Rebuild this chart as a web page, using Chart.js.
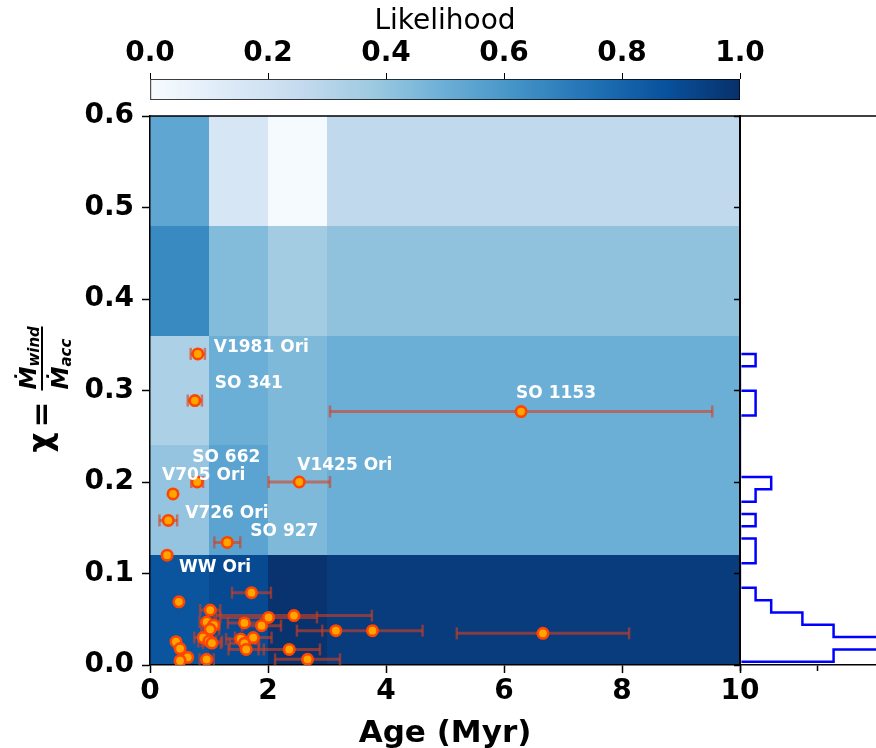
<!DOCTYPE html>
<html>
<head>
<meta charset="utf-8">
<script src="https://cdn.jsdelivr.net/npm/chart.js@4.4.1/dist/chart.umd.min.js"></script>
<style>
  html, body { margin: 0; padding: 0; background: #fff; }
  #wrap { position: relative; width: 876px; height: 748px; overflow: hidden; }
  canvas { position: absolute; top: 0; }
  #main { left: 0; }
  #hist { left: 700px; }
  #cbar { left: 0; }
</style>
</head>
<body>
<div id="wrap">
  <canvas id="main" width="876" height="748"></canvas>
  <canvas id="hist" width="176" height="748"></canvas>
  <canvas id="cbar" width="876" height="110"></canvas>
</div>
<script>
// likelihood grid: age bins x chi bins (rows bottom -> top)
const ageEdges = [0, 1, 2, 3, 10];
const chiEdges = [0, 0.12, 0.24, 0.36, 0.48, 0.6];
const likelihood = [
  [0.86, 0.90, 0.99, 0.955],
  [0.40, 0.55, 0.45, 0.50],
  [0.33, 0.50, 0.45, 0.50],
  [0.655, 0.44, 0.36, 0.41],
  [0.535, 0.165, 0.01, 0.265]
];

// objects
const names = ['V1981 Ori', 'SO 341', 'SO 1153', 'SO 662', 'V1425 Ori', 'V705 Ori', 'V726 Ori', 'SO 927', 'WW Ori'];
const ages = [0.81, 0.76, 6.29, 0.80, 2.53, 0.39, 0.31, 1.31, 0.29, 1.72, 0.49, 1.02, 2.01, 2.44, 0.96, 1.60,
  1.08, 1.89, 1.02, 3.15, 3.77, 6.66, 0.90, 1.75, 0.44, 1.02, 1.54, 1.60, 0.51, 1.63, 2.36, 0.64, 0.51, 0.96,
  2.67, 1.00, 1.05];
const chi = [0.340, 0.289, 0.277, 0.200, 0.200, 0.187, 0.158, 0.134, 0.120, 0.079, 0.069, 0.060, 0.052, 0.054,
  0.047, 0.046, 0.0435, 0.043, 0.039, 0.0375, 0.0375, 0.0346, 0.030, 0.030, 0.0255, 0.0255, 0.0284, 0.0237,
  0.018, 0.017, 0.017, 0.0084, 0.0047, 0.0062, 0.0062, 0.026, 0.024];
const ageErr = [0.12, 0.12, 3.24, 0.10, 0.52, 0, 0.15, 0.22, 0, 0.33, 0, 0.17, 0.82, 1.32, 0.12, 0.28, 0.10,
  0.33, 0.15, 0.66, 0.85, 1.46, 0.15, 0.31, 0, 0.20, 0.25, 0.25, 0, 0.30, 0.52, 0, 0, 0.12, 0.55, 0.12, 0.15];

// chi histogram (25 bins between histMin and histMax, bottom -> top)
const histMin = 0.0036;
const histMax = 0.340;
const histCounts = [6, 9, 6, 4, 2, 1, 0, 0, 1, 1, 0, 1, 0, 1, 2, 0, 0, 0, 0, 0, 1, 1, 0, 0, 1];
const histTicks = [0, 5];

const cbTicks = [0, 0.2, 0.4, 0.6, 0.8, 1.0];

// label offsets in px from the point
const labelOffsets = [[16, -6], [20, -17], [-5, -18], [-5, -24], [-2, -16], [-11, -18], [17, -7], [23, -11], [12, 12]];

const FONT = '"DejaVu Sans", sans-serif';
const errColor = 'rgba(214, 62, 30, 0.6)';

const bluesStops = ['#f7fbff', '#deebf7', '#c6dbef', '#9ecae1', '#6baed6', '#4292c6', '#2171b5', '#08519c', '#08306b'];
function hexRgb(h) {
  return [parseInt(h.slice(1, 3), 16), parseInt(h.slice(3, 5), 16), parseInt(h.slice(5, 7), 16)];
}
function blues(v) {
  const t = Math.max(0, Math.min(1, v)) * 8;
  const i = Math.min(7, Math.floor(t));
  const f = t - i;
  const a = hexRgb(bluesStops[i]), b = hexRgb(bluesStops[i + 1]);
  const c = a.map((x, k) => Math.round(x + (b[k] - x) * f));
  return `rgb(${c[0]},${c[1]},${c[2]})`;
}

// build datasets
const points = ages.map((a, i) => ({ x: a, y: chi[i] }));
const errLines = [];
const errCaps = [];
ages.forEach((a, i) => {
  if (!ageErr[i]) return;
  errLines.push({ x: a - ageErr[i], y: chi[i] }, { x: a + ageErr[i], y: chi[i] }, { x: null, y: null });
  errCaps.push({ x: a - ageErr[i], y: chi[i] }, { x: a + ageErr[i], y: chi[i] });
});

// heatmap cells
const heatmapPlugin = {
  id: 'heatmap',
  beforeDraw(chart) {
    const { ctx, scales: { x, y } } = chart;
    ctx.save();
    for (let r = 0; r < likelihood.length; r++) {
      for (let c = 0; c < likelihood[r].length; c++) {
        const x0 = Math.round(x.getPixelForValue(ageEdges[c]));
        const x1 = Math.round(x.getPixelForValue(ageEdges[c + 1]));
        const y0 = Math.round(y.getPixelForValue(chiEdges[r]));
        const y1 = Math.round(y.getPixelForValue(chiEdges[r + 1]));
        ctx.fillStyle = blues(likelihood[r][c]);
        ctx.fillRect(x0, y1, x1 - x0, y0 - y1);
      }
    }
    ctx.restore();
  }
};

const decorPlugin = {
  id: 'decor',
  afterDraw(chart) {
    const { ctx, chartArea: ca } = chart;
    const meta = chart.getDatasetMeta(0);
    ctx.save();
    // labels
    ctx.fillStyle = '#fff';
    ctx.font = 'bold 17px ' + FONT;
    ctx.textBaseline = 'middle';
    ctx.textAlign = 'left';
    names.forEach((n, i) => {
      const p = meta.data[i];
      ctx.fillText(n, p.x + labelOffsets[i][0], p.y + labelOffsets[i][1]);
    });
    // top / right spines
    ctx.strokeStyle = '#000';
    ctx.lineWidth = 1.5;
    ctx.beginPath();
    ctx.moveTo(ca.left, ca.top);
    ctx.lineTo(ca.right, ca.top);
    ctx.lineTo(ca.right, ca.bottom);
    ctx.stroke();
    // y label: chi = Mdot_wind / Mdot_acc
    ctx.translate(45, (ca.top + ca.bottom) / 2);
    ctx.rotate(-Math.PI / 2);
    ctx.fillStyle = '#000';
    ctx.textBaseline = 'alphabetic';
    const base = 6;
    ctx.font = 'bold 31px ' + FONT;
    ctx.fillText('\u03c7', -62, base);
    ctx.fillText('=', -37, base);
    const bar = -3;
    ctx.fillRect(0, bar - 1, 64, 2);
    ctx.font = 'italic bold 23px ' + FONT;
    ctx.fillText('\u1E40', 1, bar - 6);
    ctx.fillText('\u1E40', 1, bar + 26);
    const wM = ctx.measureText('\u1E40').width;
    ctx.font = 'italic bold 15px ' + FONT;
    ctx.fillText('wind', 1 + wM, bar - 3);
    ctx.fillText('acc', 1 + wM, bar + 29);
    ctx.restore();
  }
};

const tickFont = { family: FONT, size: 28, weight: 'bold' };

new Chart(document.getElementById('main'), {
  type: 'scatter',
  data: {
    datasets: [
      {
        label: 'objects',
        data: points,
        pointRadius: 5.2,
        pointHoverRadius: 5.2,
        pointBackgroundColor: '#ffa500',
        pointBorderColor: '#ff4500',
        pointBorderWidth: 2.6
      },
      {
        label: 'caps',
        data: errCaps,
        pointStyle: 'line',
        rotation: 90,
        pointRadius: 6,
        pointHoverRadius: 6,
        pointBorderColor: errColor,
        pointBorderWidth: 2.5
      },
      {
        label: 'errors',
        data: errLines,
        showLine: true,
        spanGaps: false,
        borderColor: errColor,
        borderWidth: 3,
        pointRadius: 0,
        pointHoverRadius: 0
      }
    ]
  },
  options: {
    responsive: false,
    animation: false,
    events: [],
    layout: { padding: { top: 116, right: 136, left: 0, bottom: 0 } },
    plugins: { legend: { display: false }, tooltip: { enabled: false } },
    scales: {
      x: {
        type: 'linear', min: 0, max: 10,
        ticks: { stepSize: 2, font: tickFont, color: '#000', padding: 2, maxRotation: 0 },
        grid: { drawOnChartArea: false, tickLength: 8, tickColor: '#000', tickWidth: 1.5 },
        border: { color: '#000', width: 1.5 },
        title: { display: true, text: 'Age (Myr)', color: '#000', font: { family: FONT, size: 31, weight: 'bold' }, padding: { top: 0, bottom: -5 } },
        afterFit: s => { s.height = 83; }
      },
      y: {
        type: 'linear', min: 0, max: 0.6,
        ticks: { stepSize: 0.1, font: tickFont, color: '#000', padding: 8, callback: v => v.toFixed(1) },
        grid: { drawOnChartArea: false, tickLength: 8, tickColor: '#000', tickWidth: 1.5 },
        border: { color: '#000', width: 1.5 },
        afterFit: s => { s.width = 150; }
      }
    }
  },
  plugins: [heatmapPlugin, decorPlugin]
});

// histogram of chi (horizontal steps)
const binW = (histMax - histMin) / histCounts.length;
const histPath = [{ x: 0, y: histMin }];
histCounts.forEach((c, i) => {
  histPath.push({ x: c, y: histMin + i * binW }, { x: c, y: histMin + (i + 1) * binW });
});
histPath.push({ x: 0, y: histMax });

const topSpine = {
  id: 'topSpine',
  afterDraw(chart) {
    const { ctx, chartArea: ca } = chart;
    ctx.save();
    ctx.strokeStyle = '#000';
    ctx.lineWidth = 1.5;
    ctx.beginPath();
    ctx.moveTo(ca.left, ca.top);
    ctx.lineTo(ca.right + 2, ca.top);
    ctx.stroke();
    ctx.restore();
  }
};

new Chart(document.getElementById('hist'), {
  type: 'scatter',
  data: {
    datasets: [{
      data: histPath,
      showLine: true,
      clip: { left: -1.4, top: 2, right: 0, bottom: 2 },
      borderColor: '#0000ff',
      borderWidth: 2.5,
      pointRadius: 0,
      pointHoverRadius: 0
    }]
  },
  options: {
    responsive: false,
    animation: false,
    events: [],
    layout: { padding: { top: 116, right: 0, left: 0, bottom: 0 } },
    plugins: { legend: { display: false }, tooltip: { enabled: false } },
    scales: {
      x: {
        type: 'linear', min: 0, max: 8.72, z: 1,
        afterBuildTicks: s => { s.ticks = histTicks.map(v => ({ value: v })); },
        ticks: { display: false },
        grid: { drawOnChartArea: false, tickLength: 6, tickColor: '#000', tickWidth: 1.5 },
        border: { color: '#000', width: 1.5 },
        afterFit: s => { s.height = 83; }
      },
      y: {
        type: 'linear', min: 0, max: 0.6, z: 1,
        ticks: { display: false, stepSize: 0.1 },
        grid: { drawOnChartArea: false, tickLength: 6, tickColor: '#000', tickWidth: 1.5 },
        border: { color: '#000', width: 2 },
        afterFit: s => { s.width = 40; }
      }
    }
  },
  plugins: [topSpine]
});

// colorbar
new Chart(document.getElementById('cbar'), {
  type: 'bar',
  data: {
    labels: ['Likelihood'],
    datasets: [{
      data: [[0, 1]],
      backgroundColor: c => {
        const ca = c.chart.chartArea;
        if (!ca) return bluesStops[4];
        const g = c.chart.ctx.createLinearGradient(ca.left, 0, ca.right, 0);
        bluesStops.forEach((col, i) => g.addColorStop(i / 8, col));
        return g;
      },
      borderColor: '#000',
      borderWidth: 1,
      borderSkipped: false,
      barPercentage: 1,
      categoryPercentage: 1
    }]
  },
  options: {
    indexAxis: 'y',
    responsive: false,
    animation: false,
    events: [],
    layout: { padding: { left: 150, right: 136, top: 0, bottom: 10 } },
    plugins: { legend: { display: false }, tooltip: { enabled: false } },
    scales: {
      x: {
        type: 'linear', position: 'top', min: 0, max: 1,
        afterBuildTicks: s => { s.ticks = cbTicks.map(v => ({ value: v })); },
        ticks: { font: tickFont, color: '#000', padding: 2, maxRotation: 0, callback: v => v.toFixed(1) },
        grid: { drawOnChartArea: false, tickLength: 6, tickColor: '#000', tickWidth: 1 },
        border: { display: false },
        title: { display: true, text: 'Likelihood', color: '#000', font: { family: FONT, size: 28 }, padding: { top: 5, bottom: 0 } },
        afterFit: s => { s.height = 79; }
      },
      y: { display: false }
    }
  }
});
</script>
</body>
</html>
